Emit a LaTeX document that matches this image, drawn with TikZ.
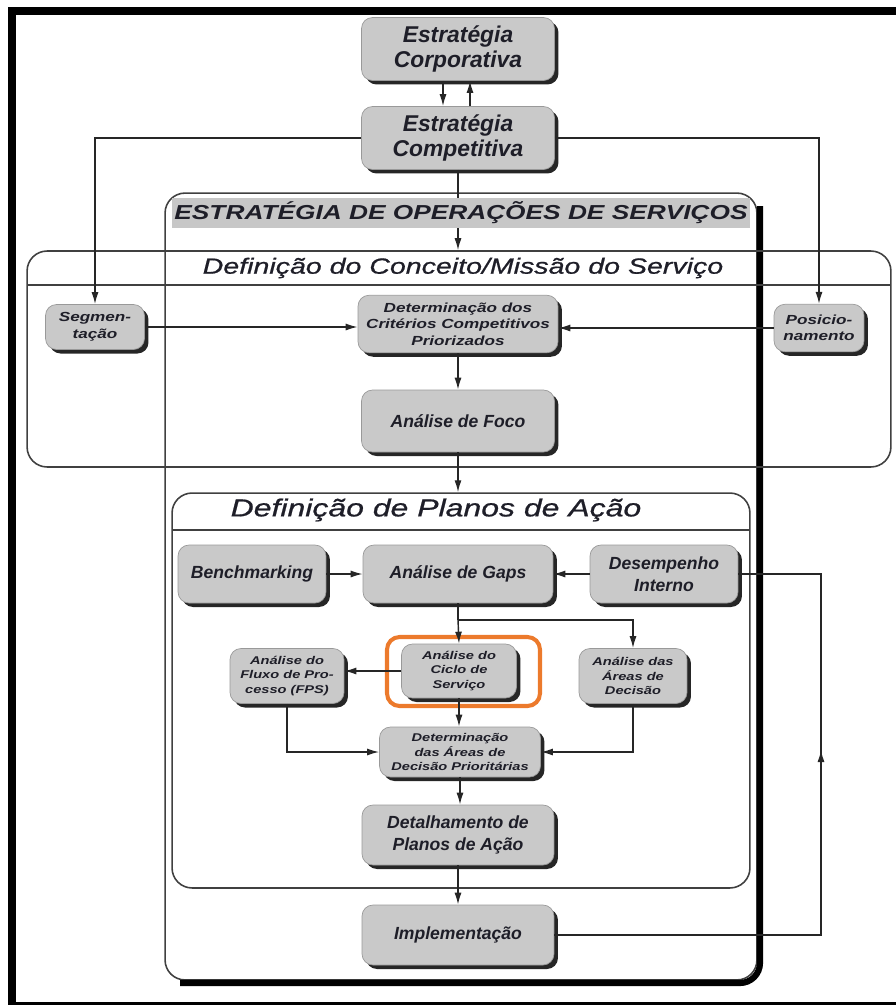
\documentclass[tikz,border=0pt]{standalone}
\usepackage{fontspec}
\setmainfont{Liberation Sans}
\newfontfamily\largo{Liberation Sans}[FakeStretch=1.3]
\newfontfamily\largot{Liberation Sans}[FakeStretch=1.3, FakeBold=0.8]
\usepackage{tikz}
\usetikzlibrary{arrows.meta,shadows}
\definecolor{cinza}{gray}{0.79}
\definecolor{laranja}{RGB}{236,122,44}
\definecolor{texto}{RGB}{30,30,40}

\tikzset{
  caixa/.style={rectangle, rounded corners=0.22cm, fill=cinza, draw=black!40, line width=0.4pt,
    text=texto, align=center, inner sep=1pt,
    drop shadow={shadow xshift=0.08cm, shadow yshift=-0.08cm, fill=black!85, opacity=1}},
  est/.style={font=\bfseries\itshape\fontsize{13}{14.5}\selectfont},
  media/.style={font=\bfseries\itshape\fontsize{10}{12.5}\selectfont},
  peq/.style={font=\largo\bfseries\itshape\fontsize{7.5}{9.4}\selectfont},
  mini/.style={font=\largo\bfseries\itshape\fontsize{6.4}{8.2}\selectfont},
  moldura/.style={rectangle, rounded corners=0.4cm, draw=black!75, line width=0.9pt},
  titulo/.style={text=texto, font=\largot\itshape\fontsize{12.5}{14}\selectfont},
  seta/.style={-{Latex[length=0.24cm,width=0.14cm]}, line width=0.8pt, black!85},
  ligacao/.style={line width=0.8pt, black!85},
}

\begin{document}
\begin{tikzpicture}[x=0.02cm, y=-0.02cm]
    \useasboundingbox (0,0) rectangle (896,1005);
    % moldura
    \fill (8,7) rectangle (896,15);
    \fill (8,7) rectangle (16,1005);
    \fill (8,1002) rectangle (896,1005);

    % caixas
    \node[caixa, est, minimum width=3.86cm, minimum height=1.26cm] (corp) at (458,49) {Estratégia\\Corporativa};
    \node[caixa, est, minimum width=3.86cm, minimum height=1.26cm] (comp) at (458,138) {Estratégia\\Competitiva};
    \node[caixa, peq, minimum width=1.98cm, minimum height=0.9cm] (segm) at (95,327) {Segmen-\\tação};
    \node[caixa, peq, minimum width=4.0cm, minimum height=1.15cm] (crit) at (458,324) {Determinação dos\\Critérios Competitivos\\Priorizados};
    \node[caixa, peq, minimum width=1.8cm, minimum height=0.95cm] (posic) at (819,328) {Posicio-\\namento};
    \node[caixa, media, minimum width=3.86cm, minimum height=1.24cm] (foco) at (458,421) {Análise de Foco};
    \node[caixa, media, minimum width=2.96cm, minimum height=1.16cm] (bench) at (252,574) {Benchmarking};
    \node[caixa, media, minimum width=3.8cm, minimum height=1.16cm] (gaps) at (458,574) {Análise de Gaps};
    \node[caixa, media, minimum width=2.96cm, minimum height=1.16cm] (desemp) at (664,574) {Desempenho\\Interno};
    \node[caixa, mini, minimum width=2.3cm, minimum height=1.08cm] (ciclo) at (459,671) {Análise do\\Ciclo de\\Serviço};
    \node[caixa, mini, minimum width=2.28cm, minimum height=1.1cm] (fps) at (287,676) {Análise do\\Fluxo de Pro-\\cesso (FPS)};
    \node[caixa, mini, minimum width=2.16cm, minimum height=1.1cm] (areas) at (633,676) {Análise das\\Áreas de\\Decisão};
    \node[caixa, mini, minimum width=3.22cm, minimum height=1.0cm] (detareas) at (460,752) {Determinação\\das Áreas de\\Decisão Prioritárias};
    \node[caixa, media, minimum width=3.84cm, minimum height=1.2cm] (detal) at (458,835) {Detalhamento de\\Planos de Ação};
    \node[caixa, media, minimum width=3.84cm, minimum height=1.2cm] (impl) at (458,935) {Implementação};

    % blocos
    \node[moldura, minimum width=11.84cm, minimum height=15.74cm] (painel) at (461,586.5) {};
    \draw[line width=3.5pt, rounded corners=0.4cm] (760,206) -- (760,983) -- (180,983);
    \node[moldura, minimum width=17.28cm, minimum height=4.32cm] (conceito) at (459,359) {};
    \draw[black!75, line width=0.9pt] (27,285) -- (891,285);
    \node[titulo] (tconceito) at (463,268) {Definição do Conceito/Missão do Serviço};
    \node[moldura, minimum width=11.56cm, minimum height=7.9cm] (planos) at (461,690.5) {};
    \draw[black!75, line width=0.9pt] (172,530) -- (750,530);
    \node[titulo, font=\largot\itshape\fontsize{14}{16}\selectfont] (tplanos) at (436,510) {Definição de Planos de Ação};
    \node[draw=laranja, line width=2.3pt, rounded corners=0.25cm, minimum width=3.06cm, minimum height=1.38cm] (destaque) at (463.5,671.5) {};

    % ligacoes
    \draw[seta] ([xshift=-0.3cm]corp.south) -- ([xshift=-0.3cm]comp.north);
    \draw[seta] ([xshift=0.24cm]comp.north) -- ([xshift=0.24cm]corp.south);
    \draw[seta] (comp.west) -| (segm.north);
    \draw[seta] (comp.east) -| (posic.north);
    \draw[seta] (comp.south) -- (comp.south |- conceito.north);
    \draw[seta] (segm.east) -- (segm.east -| crit.west);
    \draw[seta] (posic.west) -- (posic.west -| crit.east);
    \draw[seta] (crit.south) -- (foco.north);
    \draw[seta] (foco.south) -- (foco.south |- planos.north);
    \draw[seta] (bench.east) -- (gaps.west);
    \draw[seta] (desemp.west) -- (gaps.east);
    \coordinate (ramo) at (458,620);
    \draw[ligacao] (gaps.south) -- (ramo);
    \draw[seta] (ramo) -- (ciclo.north);
    \draw[seta] (ramo) -| (areas.north);
    \draw[seta] (ciclo.west) -- (ciclo.west -| fps.east);
    \draw[seta] (ciclo.south) -- (ciclo.south |- detareas.north);
    \draw[seta] (fps.south) |- (detareas.west);
    \draw[seta] (areas.south) |- (detareas.east);
    \draw[seta] (detareas.south) -- (detareas.south |- detal.north);
    \draw[seta] (detal.south) -- (impl.north);
    \coordinate (ret) at (821,750);
    \draw[seta] (impl.east) -| (ret);
    \draw[ligacao] ([yshift=-0.12cm]ret) |- (desemp.east);

    \node[fill=black!22, text=texto, font=\largo\bfseries\itshape\fontsize{11.5}{13}\selectfont, minimum width=11.56cm, minimum height=0.6cm, inner sep=0pt] (tpainel) at (461,213) {ESTRATÉGIA DE OPERAÇÕES DE SERVIÇOS};
\end{tikzpicture}
\end{document}
